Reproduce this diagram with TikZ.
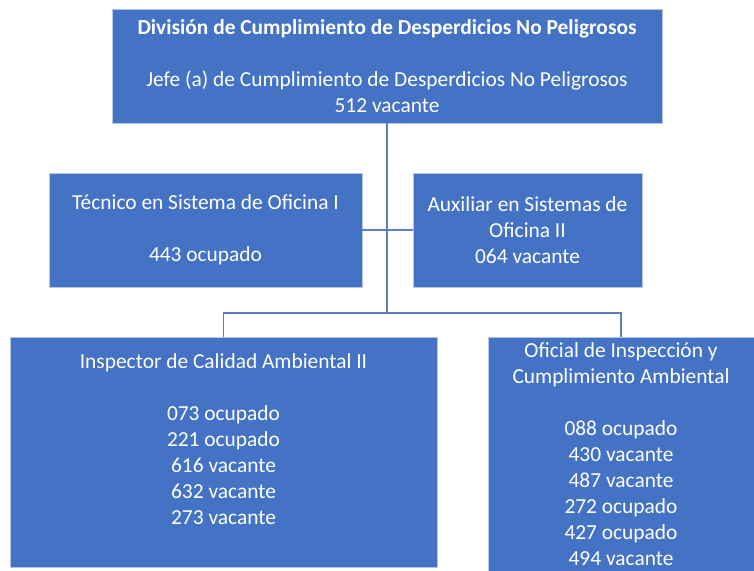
\documentclass[tikz,border=0pt]{standalone}
\usepackage{fontspec}
\setmainfont{Carlito}
\definecolor{cajaazul}{HTML}{4472C4}
\definecolor{lineaazul}{HTML}{5A7EC0}
\begin{document}
\begin{tikzpicture}[x=1pt,y=-1pt,
    caja/.style={draw=white!60!cajaazul,line width=0.8pt,rectangle,fill=cajaazul,text=white,align=center,inner sep=0pt,font=\fontsize{21.4}{26}\selectfont},
    enlace/.style={draw=lineaazul,line width=1.6pt}]
    \useasboundingbox (0,0) rectangle (754,570);

    \node[caja,minimum width=550pt,minimum height=114pt] (jefe) at (387,66) {\textbf{División de Cumplimiento de Desperdicios No Peligrosos}\\[26pt]Jefe (a) de Cumplimiento de Desperdicios No Peligrosos\\512 vacante};
    \node[caja,minimum width=313pt,minimum height=114pt] (tecnico) at (205.5,230) {Técnico en Sistema de Oficina I\\[26pt]443 ocupado};
    \node[caja,minimum width=229pt,minimum height=114pt] (auxiliar) at (527.5,230) {Auxiliar en Sistemas de\\Oficina II\\064 vacante};
    \node[caja,minimum width=427pt,minimum height=230pt] (inspector) at (223.5,452) {Inspector de Calidad Ambiental II\\[26pt]073 ocupado\\221 ocupado\\616 vacante\\632 vacante\\273 vacante\\~};
    \node[caja,minimum width=266pt,minimum height=235pt] (oficial) at (621,454.5) {Oficial de Inspección y\\Cumplimiento Ambiental\\[26pt]088 ocupado\\430 vacante\\487 vacante\\272 ocupado\\427 ocupado\\494 vacante};

    \coordinate (bus) at (387,313);
    \draw[enlace] (jefe.south) -- (bus);
    \draw[enlace] (tecnico.east) -- (auxiliar.west);
    \draw[enlace] (inspector.north) |- (bus) -| (oficial.north);
\end{tikzpicture}
\end{document}
